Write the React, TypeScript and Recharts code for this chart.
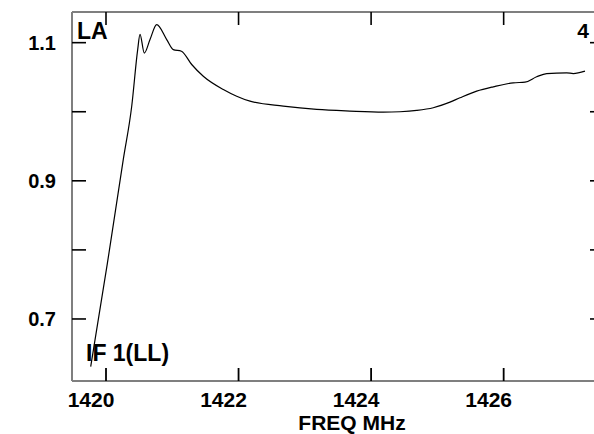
import { LineChart, Line, XAxis, YAxis } from "recharts";

/* Bandpass amplitude vs. frequency */
const freqMHz = [
  1419.769, 1420.02, 1420.261, 1420.388, 1420.478, 1420.513, 1420.578, 1420.664, 1420.765,
  1420.916, 1421.015, 1421.138, 1421.293, 1421.468, 1421.77, 1421.972, 1422.173,
  1422.675, 1423.179, 1423.681, 1424.184, 1424.436, 1424.688, 1424.938, 1425.19,
  1425.341, 1425.593, 1425.843, 1426.145, 1426.322, 1426.498, 1426.649, 1426.951,
  1427.05, 1427.227,
];
const amplitude = [
  0.631, 0.78, 0.931, 1.008, 1.09, 1.112, 1.085, 1.1045, 1.126,
  1.1045, 1.09, 1.0876, 1.0684, 1.0514, 1.0322, 1.0225, 1.0153,
  1.0081, 1.0033, 1.0009, 0.9994, 1.0, 1.0019, 1.0058, 1.0139,
  1.0202, 1.0298, 1.0361, 1.0419, 1.0428, 1.0506, 1.0553, 1.0564,
  1.0553, 1.0587,
];

const xTicks = [1420, 1422, 1424, 1426];
const yTicks = [0.7, 0.8, 0.9, 1.0, 1.1];
const yLabelled = [0.7, 0.9, 1.1];

const data = freqMHz.map((f, i) => ({ f, v: amplitude[i] }));

const FONT = "'Liberation Sans', Arial, sans-serif";
const FRAME = "#7f7f7f";
const X_DOMAIN: [number, number] = [1419.487, 1427.514];
const Y_DOMAIN: [number, number] = [0.6102, 1.1444];

/* Ticks are drawn inward from the frame, so each axis gets a custom tick */
function BottomTick({ x, y, payload }: any) {
  return (
    <g>
      <rect x={x - 0.9} y={y - 13} width={1.8} height={13} fill="#000" />
      <text x={x - 15} y={y + 26} textAnchor="middle" fontFamily={FONT} fontWeight="bold" fontSize={21} fill="#000">
        {payload.value}
      </text>
    </g>
  );
}

function TopTick({ x, y }: any) {
  return <line x1={x} x2={x} y1={y} y2={y + 13} stroke="#000" strokeWidth={1.6} />;
}

function LeftTick({ x, y, payload }: any) {
  const v = Math.round(payload.value * 10) / 10;
  return (
    <g>
      <line x1={x} x2={x + 14} y1={y} y2={y} stroke="#000" strokeWidth={1.6} />
      {yLabelled.includes(v) && (
        <text x={x - 16} y={y + 7} textAnchor="end" fontFamily={FONT} fontWeight="bold" fontSize={20} fill="#000">
          {v.toFixed(1)}
        </text>
      )}
    </g>
  );
}

function RightTick({ x, y }: any) {
  return <line x1={x} x2={x - 14} y1={y} y2={y} stroke="#000" strokeWidth={1.6} />;
}

export default function App() {
  return (
    <div style={{ position: "fixed", left: 0, top: 0, width: 594, height: 434, overflow: "hidden", background: "#fff" }}>
      <LineChart width={620} height={434} data={data} margin={{ top: 11, right: 15, bottom: 0, left: 0 }}>
        <XAxis
          dataKey="f"
          type="number"
          domain={X_DOMAIN}
          allowDataOverflow
          ticks={xTicks}
          interval={0}
          height={53}
          tickSize={0}
          tickMargin={0}
          axisLine={{ stroke: FRAME, strokeWidth: 2 }}
          tickLine={false}
          tick={<BottomTick />}
        />
        <XAxis
          xAxisId="top"
          orientation="top"
          dataKey="f"
          type="number"
          domain={X_DOMAIN}
          allowDataOverflow
          ticks={xTicks}
          interval={0}
          height={1}
          tickSize={0}
          tickMargin={0}
          axisLine={{ stroke: FRAME, strokeWidth: 2 }}
          tickLine={false}
          tick={<TopTick />}
        />
        <YAxis
          type="number"
          domain={Y_DOMAIN}
          allowDataOverflow
          ticks={yTicks}
          interval={0}
          width={72}
          tickSize={0}
          tickMargin={0}
          axisLine={{ stroke: FRAME, strokeWidth: 2 }}
          tickLine={false}
          tick={<LeftTick />}
        />
        <YAxis
          yAxisId="right"
          orientation="right"
          type="number"
          domain={Y_DOMAIN}
          allowDataOverflow
          ticks={yTicks}
          interval={0}
          width={1}
          tickSize={0}
          tickMargin={0}
          axisLine={{ stroke: FRAME, strokeWidth: 2 }}
          tickLine={false}
          tick={<RightTick />}
        />
        <Line
          dataKey="v"
          type="monotone"
          stroke="#000"
          strokeWidth={1.2}
          dot={false}
          isAnimationActive={false}
        />
      </LineChart>

      {/* Corner annotations and axis title */}
      <svg width={594} height={434} style={{ position: "absolute", left: 0, top: 0, pointerEvents: "none" }}>
        <g fontFamily={FONT} fontWeight="bold" fill="#000">
          <text x={77} y={39} fontSize={23}>LA</text>
          <text x={589} y={38} fontSize={21} textAnchor="end">4</text>
          <text x={86} y={361} fontSize={23}>IF 1(LL)</text>
          <text x={352} y={430} fontSize={21} textAnchor="middle">FREQ MHz</text>
        </g>
      </svg>
    </div>
  );
}
